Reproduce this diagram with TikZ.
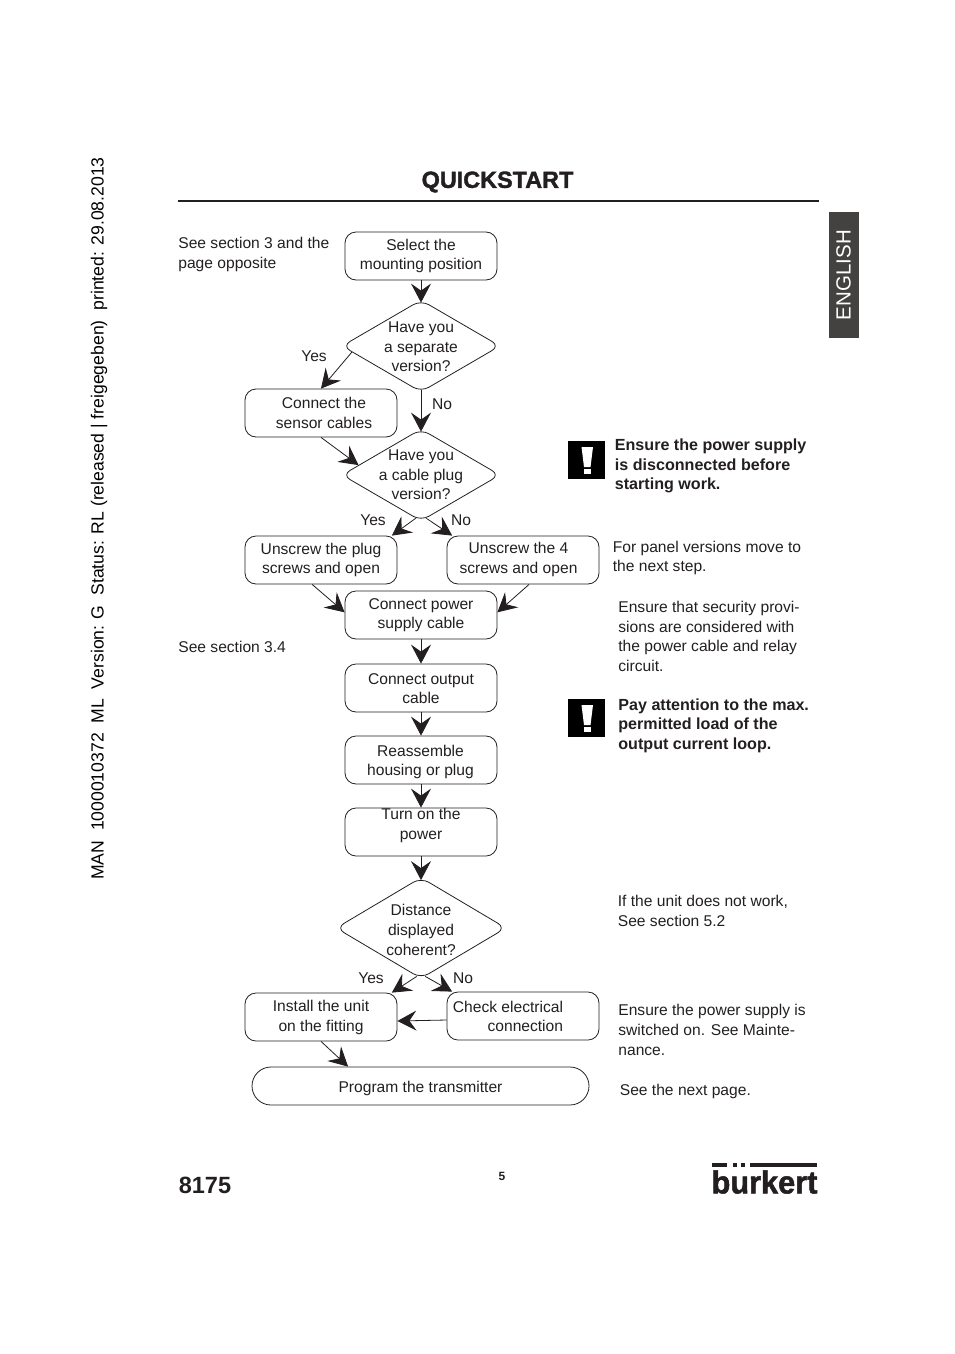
\documentclass[tikz,border=0pt]{standalone}
\usepackage{fontspec}
\setmainfont{Liberation Sans}
\newfontfamily\logofont[BoldFeatures={FakeBold=1.6}]{Liberation Sans}
\usetikzlibrary{arrows.meta}
\usetikzlibrary{shapes.geometric}
\definecolor{inkc}{HTML}{231F20}
\tikzset{
  txt/.style={inner sep=0pt, align=center, text=inkc, node font=\fontsize{15.6}{19.6}\selectfont},
  note/.style={txt, anchor=west, align=left},
  strong/.style={note, node font=\fontsize{16.1}{19.6}\selectfont\bfseries},
  stepbox/.style={draw=inkc, rounded corners=11pt, minimum width=152pt, minimum height=48pt, inner sep=0pt, txt},
  decision/.style={diamond, draw=inkc, rounded corners=9pt, minimum width=158pt, minimum height=92pt, inner sep=0pt},
  flow/.style={draw=inkc, line width=0.8pt, ->},
  tipflow/.style={flow, shorten >=-3pt},
}
\begin{document}
\begin{tikzpicture}[x=1pt, y=-1pt, >={Stealth[length=19pt, width=20pt, inset=7pt]}, line width=0.8pt]
  \useasboundingbox (0, 0) rectangle (954, 1354);

%%%%%%%%%%%% Page furniture
  \node[inner sep=0pt, text=inkc, font=\fontsize{23.4}{24}\logofont\bfseries] (title) at (497.5, 182) {QUICKSTART};
  \draw[inkc, line width=2pt] (178, 201) -- (819, 201);
  \node[inner sep=0pt, rotate=90, text=black, font=\fontsize{17.6}{18}\selectfont] (margin) at (99, 518.5)
    {MAN\ \ 1000010372\ \ ML\ \ Version: G\ \ Status: RL (released | freigegeben)\ \ printed: 29.08.2013};
  \node[fill=inkc!85, minimum width=30pt, minimum height=126pt, inner sep=0pt] (langbox) at (844, 275) {};
  \node[rotate=90, text=white, inner sep=0pt, font=\fontsize{20.5}{21}\selectfont] (lang) at (843.5, 275) {ENGLISH};
  \node[inner sep=0pt, text=inkc, font=\fontsize{23.5}{24}\selectfont\bfseries] (type) at (205, 1185) {8175};
  \node[inner sep=0pt, text=inkc, font=\fontsize{12}{12}\selectfont\bfseries] (pageno) at (502, 1176) {5};

%%%%%%%%%%%% Logo
  \fill[inkc] (712, 1163) rectangle (727, 1167);
  \foreach \x in {733, 741} {
    \fill[inkc] (\x, 1163) rectangle +(4, 4);
  }
  \fill[inkc] (750, 1163) rectangle (817, 1167);
  \node[inner sep=0pt, text=inkc, xscale=0.96, font=\fontsize{32}{32}\logofont\bfseries] (logo) at (764.5, 1182) {burkert};

%%%%%%%%%%%% Flow steps
  \node[stepbox] (select) at (421, 256) {Select the\\mounting position};
  \node[decision] (sepver) at (421, 346) {};
  \node[txt] (septxt) at (421, 347) {Have you\\a separate\\version?};
  \node[stepbox] (sensor) at (321, 413) {};
  \node[txt] (sensortxt) at (324, 413) {Connect the\\sensor cables};
  \node[decision] (plugver) at (421, 475) {};
  \node[txt] (plugtxt) at (421, 475) {Have you\\a cable plug\\version?};
  \node[stepbox] (plug) at (321, 560) {Unscrew the plug\\screws and open};
  \node[stepbox] (four) at (523, 560) {};
  \node[txt] (fourtxt) at (518.5, 559.5) {Unscrew the 4\\screws and open};
  \node[stepbox] (power) at (421, 615) {Connect power\\supply cable};
  \node[stepbox] (output) at (421, 688) {};
  \node[txt] (outputtxt) at (421, 688.5) {Connect output\\cable};
  \node[stepbox] (housing) at (421, 760) {};
  \node[txt] (housingtxt) at (420.5, 762) {Reassemble\\housing or plug};
  \node[stepbox] (turn) at (421, 832) {};
  \node[txt] (turntxt) at (421, 825.5) {Turn on the\\power};
  \node[decision, minimum width=170pt, minimum height=101pt] (dist) at (421, 928) {};
  \node[txt] (disttxt) at (421, 930) {Distance\\displayed\\coherent?};
  \node[stepbox] (install) at (321, 1017) {};
  \node[txt] (installtxt) at (321, 1017.5) {Install the unit\\on the fitting};
  \node[stepbox] (check) at (523, 1016) {};
  \node[txt, align=right] (checktxt) at (508, 1016.5) {Check electrical\\connection};
  \node[stepbox, rounded corners=19pt, minimum width=337pt, minimum height=38pt] (program) at (420.5, 1086) {};
  \node[txt] (programtxt) at (420.5, 1088) {Program the transmitter};

%%%%%%%%%%%% Connectors
  \draw[tipflow] (select) -- (sepver.north);
  \draw[flow] (sepver.185) -- (sensor.north);
  \draw[tipflow, shorten <=-2.5pt] (sepver.south) -- (plugver.north);
  \draw[flow] (sensor.south) -- (plugver.171);
  \draw[flow] (plugver.263) -- (plug.19);
  \draw[flow] (plugver.277) -- (four.161);
  \draw[flow] (plug.250) -- (power.178);
  \draw[flow] (four.284) -- (power.2);
  \draw[flow] (power) -- (output);
  \draw[flow] (output) -- (housing);
  \draw[flow] (housing) -- (turn);
  \draw[tipflow] (turn) -- (dist.north);
  \draw[flow] (dist.265) -- (install.19);
  \draw[flow] (dist.275) -- (check.161);
  \draw[flow] (check.183) -- (install.357.74);
  \draw[flow] (install.south) -- (program.165);

%%%%%%%%%%%% Branch labels
  \node[txt] (yesa) at (314, 356) {Yes};
  \node[txt] (noa) at (442, 404) {No};
  \node[txt] (yesb) at (373, 520) {Yes};
  \node[txt] (nob) at (461, 520) {No};
  \node[txt] (yesc) at (371, 978) {Yes};
  \node[txt] (noc) at (463, 978) {No};

%%%%%%%%%%%% Side notes
  \node[note] (seeopp) at (178, 254.5) {See section 3 and the\\page opposite};
  \node[note] (seethree) at (178, 647) {See section 3.4};
  \node[strong] (warntxta) at (614.5, 466) {Ensure the power supply\\is disconnected before\\starting work.};
  \node[note] (panel) at (612.5, 558) {For panel versions move to\\the next step.};
  \node[note] (secur) at (618, 636.5) {Ensure that security provi-\\sions are considered with\\the power cable and relay\\circuit.};
  \node[strong] (warntxtb) at (618, 725.5) {Pay attention to the max.\\permitted load of the\\output current loop.};
  \node[note] (nowork) at (617.5, 911) {If the unit does not work,\\See section 5.2};
  \node[note] (switched) at (618, 1030) {Ensure the power supply is\\switched on. See Mainte-\\nance.};
  \node[note] (nextpage) at (619.5, 1091) {See the next page.};

%%%%%%%%%%%% Warning signs
  \foreach \y in {441, 699} {
    \begin{scope}[yshift=-\y pt]
      \fill[black] (568, 0) rectangle (605, 38);
      \fill[white] (581.5, 6) -- (593, 6) -- (590.5, 26) -- (584, 26) -- cycle;
      \fill[white] (584, 28) rectangle (590.5, 33);
    \end{scope}
  }
\end{tikzpicture}
\end{document}
